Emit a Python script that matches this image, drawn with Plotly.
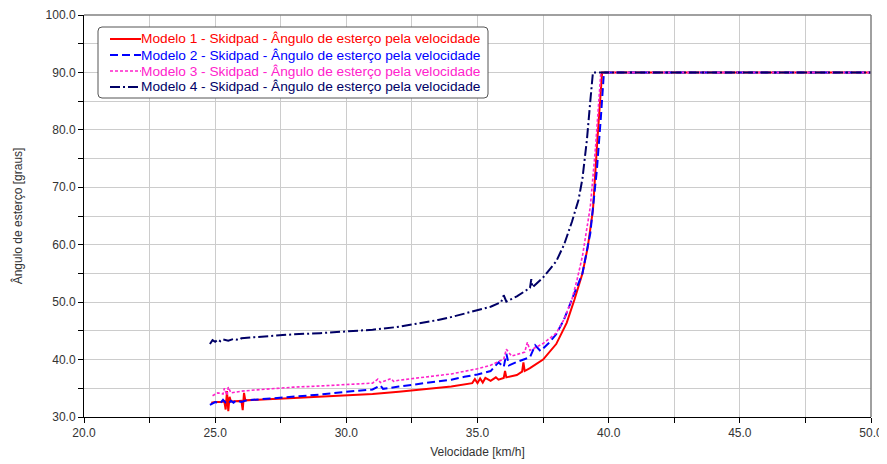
import plotly.graph_objects as go

# Modelo 1
v1 = [24.85, 25.0, 25.2, 25.35, 25.4, 25.45, 25.5, 25.55, 25.6, 25.8, 26.0, 26.05, 26.1, 26.15, 26.5, 27, 28, 29, 30, 31, 32, 33, 34,
      34.8, 34.9, 35.0, 35.1, 35.2, 35.3, 35.5, 35.7, 35.8, 36.0, 36.05, 36.1, 36.5, 36.7, 36.75, 36.8, 37.0, 37.5, 38.0, 38.4,
      38.7, 39.0, 39.2, 39.4, 39.57, 39.68, 39.75, 40, 50]
a1 = [32.5, 32.6, 32.6, 32.7, 31.3, 34.5, 31.0, 33.5, 32.7, 32.8, 32.8, 31.2, 34.2, 32.9, 33.0, 33.1, 33.3, 33.5, 33.7, 34.0, 34.4, 34.8, 35.3,
      35.9, 36.6, 35.9, 36.7, 36.0, 36.8, 36.3, 36.9, 36.5, 36.8, 38.0, 36.9, 37.3, 37.9, 39.5, 38.0, 38.5, 40.0, 42.7, 46.4,
      50.5, 55.0, 59.5, 66.0, 78.3, 85.0, 90, 90, 90]

# Modelo 2
v2 = [24.8, 25.0, 25.2, 25.3, 25.4, 25.5, 25.6, 25.7, 25.8, 26.0, 26.2, 26.5, 27, 28, 29, 30, 31, 31.3, 31.4, 32, 33, 34, 34.5, 35,
      35.5, 35.8, 36.0, 36.1, 36.2, 36.5, 37.0, 37.2, 37.4, 37.7, 38.0, 38.3, 38.6, 39.0, 39.3, 39.55, 39.7, 39.82, 40, 50]
a2 = [32.1, 32.6, 32.4, 33.0, 32.5, 32.3, 32.8, 32.5, 32.9, 32.6, 32.9, 33.0, 33.2, 33.5, 33.9, 34.4, 34.8, 35.5, 34.9, 35.3, 35.9, 36.5, 37.0, 37.4,
      38.0, 39.5, 38.7, 41.0, 39.0, 39.6, 40.4, 42.5, 41.5, 42.8, 44.4, 47.0, 50.5, 55.0, 62.0, 73.0, 82.0, 90, 90, 90]

# Modelo 3
v3 = [24.9, 25.1, 25.3, 25.35, 25.45, 25.5, 25.6, 25.8, 26.0, 26.5, 27, 28, 29, 30, 31, 31.2, 31.3, 31.7, 31.8, 32, 33, 34, 35, 35.5,
      36.0, 36.1, 36.3, 36.8, 36.9, 37.0, 37.5, 38.0, 38.3, 38.6, 38.8, 39.0, 39.3, 39.5, 39.7, 40, 50]
a3 = [33.7, 34.2, 34.0, 35.0, 33.8, 35.2, 34.2, 34.4, 34.5, 34.7, 34.9, 35.2, 35.4, 35.6, 35.9, 36.6, 36.0, 36.7, 36.2, 36.4, 36.9, 37.5, 38.4, 39.0,
      40.1, 41.8, 40.6, 41.3, 43.0, 41.6, 42.8, 44.6, 47.0, 50.5, 54.0, 58.0, 66.6, 77.0, 89.9, 90, 90]

# Modelo 4
v4 = [24.8, 24.9, 25.0, 25.1, 25.2, 25.3, 25.5, 25.7, 25.9, 26.0, 26.5, 27, 28, 29, 30, 31, 32, 32.5, 33, 33.5, 34, 34.5, 35, 35.5,
      35.9, 36.0, 36.1, 36.5, 37.0, 37.05, 37.1, 37.5, 38.0, 38.3, 38.6, 38.85, 39.0, 39.17, 39.3, 39.4, 40, 50]
a4 = [42.7, 43.4, 43.1, 43.5, 43.2, 43.5, 43.3, 43.6, 43.4, 43.7, 43.9, 44.1, 44.4, 44.6, 44.9, 45.2, 45.7, 46.1, 46.4, 46.9, 47.4, 48.0, 48.7, 49.2,
      50.0, 51.2, 50.1, 51.0, 52.5, 54.0, 52.6, 54.3, 57.1, 60.0, 64.0, 67.8, 71.5, 78.25, 85.0, 90, 90, 90]

names = ["Modelo 1 - Skidpad - Ângulo de esterço pela velocidade",
         "Modelo 2 - Skidpad - Ângulo de esterço pela velocidade",
         "Modelo 3 - Skidpad - Ângulo de esterço pela velocidade",
         "Modelo 4 - Skidpad - Ângulo de esterço pela velocidade"]
colors = ["#FF0000", "#0000FF", "#FF22CC", "#000066"]
dashes = ["solid", "8px,4px", "3px,2px", "10px,3px,2px,3px"]
widths = [2, 2, 1.6, 2]

# the page body adds an 8px offset at the top-left
OFF = 8
W, H = 887 - OFF, 464 - OFF
ML, MT = 84 - OFF, 15 - OFF
MR = W - (871 - OFF)
MB = H - (417 - OFF)
PW, PH = W - ML - MR, H - MT - MB


def px(x):
    """window pixel -> paper fraction"""
    return (x - OFF - ML) / PW


def py(y):
    return (H - MB - (y - OFF)) / PH


fig = go.Figure()
for v, a, n, c, d, w in zip([v1, v2, v3, v4], [a1, a2, a3, a4], names, colors, dashes, widths):
    fig.add_trace(go.Scatter(
        x=v, y=a, mode="lines", name=n, showlegend=False,
        line=dict(color=c, dash=d, width=w),
    ))

font = "Liberation Sans, Arial, sans-serif"

# custom legend (box, line samples, coloured labels)
lx0, lx1, ly0, ly1, r = 98, 488, 27, 98, 4
rx, ry = r / PW, r / PH
X0, X1, Y0, Y1 = px(lx0), px(lx1), py(ly0), py(ly1)
box_path = (f"M {X0+rx},{Y0} L {X1-rx},{Y0} Q {X1},{Y0} {X1},{Y0-ry} "
            f"L {X1},{Y1+ry} Q {X1},{Y1} {X1-rx},{Y1} "
            f"L {X0+rx},{Y1} Q {X0},{Y1} {X0},{Y1+ry} "
            f"L {X0},{Y0-ry} Q {X0},{Y0} {X0+rx},{Y0} Z")
shapes = [dict(type="path", xref="paper", yref="paper", path=box_path,
               fillcolor="white", line=dict(color="#555555", width=1), layer="above")]
annotations = []
rows = [39, 55, 71, 87]
for n, c, d, w, yy in zip(names, colors, dashes, widths, rows):
    shapes.append(dict(type="line", xref="paper", yref="paper",
                       x0=px(110), x1=px(141), y0=py(yy), y1=py(yy),
                       line=dict(color=c, dash=d, width=w), layer="above"))
    annotations.append(dict(xref="paper", yref="paper", x=px(139), y=py(yy),
                            xanchor="left", yanchor="middle", showarrow=False,
                            text=n, font=dict(family=font, size=13.7, color=c)))

shapes += [
    dict(type="line", xref="paper", yref="paper", x0=0, x1=1, y0=1, y1=1,
         line=dict(color="#808080", width=1.5)),
    dict(type="line", xref="paper", yref="paper", x0=1, x1=1, y0=0, y1=1,
         line=dict(color="#808080", width=1.5)),
]

fig.update_layout(
    width=W, height=H,
    margin=dict(l=ML, r=MR, t=MT, b=MB),
    paper_bgcolor="white", plot_bgcolor="white",
    font=dict(family=font, size=12, color="#333333"),
    showlegend=False,
    xaxis=dict(range=[20, 50], dtick=5, tick0=20, tickformat=".1f",
               automargin=False, ticklabeloverflow="allow",
               showgrid=True, gridcolor="#CCCCCC", gridwidth=1,
               ticks="outside", ticklen=5, tickcolor="#000000",
               minor=dict(dtick=2.5, showgrid=True, gridcolor="#CCCCCC",
                          ticks="outside", ticklen=5, tickcolor="#000000"),
               showline=True, linecolor="#000000", linewidth=1,
               zeroline=False,
               title=dict(text="Velocidade [km/h]", standoff=8,
                          font=dict(family=font, size=12, color="#333333"))),
    yaxis=dict(range=[30, 100], dtick=10, tick0=30, tickformat=".1f",
               automargin=False, ticklabeloverflow="allow",
               showgrid=True, gridcolor="#CCCCCC", gridwidth=1,
               ticks="outside", ticklen=5, tickcolor="#000000",
               minor=dict(dtick=5, showgrid=True, gridcolor="#CCCCCC",
                          ticks="outside", ticklen=5, tickcolor="#000000"),
               showline=True, linecolor="#000000", linewidth=1,
               zeroline=False,
               title=dict(text="Ângulo de esterço [graus]", standoff=20,
                          font=dict(family=font, size=12, color="#333333"))),
    shapes=shapes,
    annotations=annotations,
)

fig.write_html("out.html")
